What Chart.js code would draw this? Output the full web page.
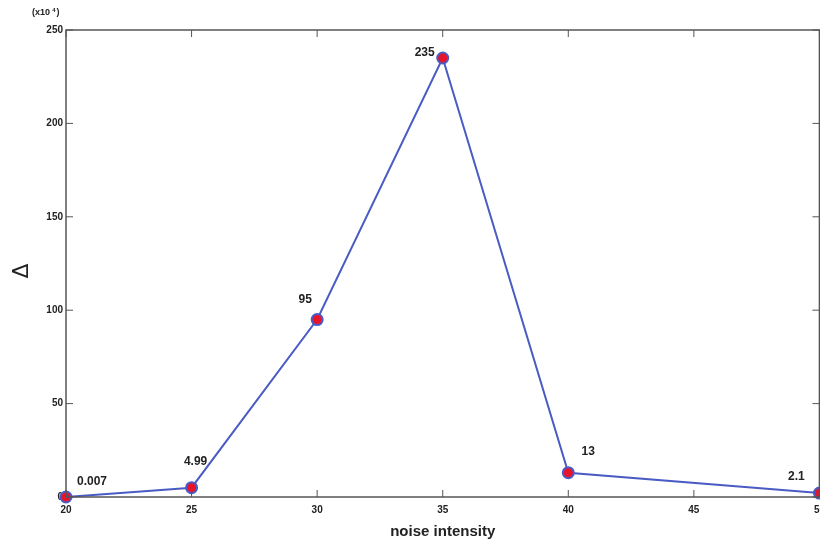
<!DOCTYPE html>
<html>
<head>
<meta charset="utf-8">
<script src="https://cdn.jsdelivr.net/npm/chart.js@4.4.1/dist/chart.umd.min.js"></script>
<style>
  html, body { margin: 0; padding: 0; background: #fff; overflow: hidden; }
  #wrap { position: relative; width: 832px; height: 541px; }
</style>
</head>
<body>
<div id="wrap"><canvas id="grafico"></canvas></div>
<script>
// datos
const intensidad = [20, 25, 30, 35, 40, 50];
const delta = [0.007, 4.99, 95, 235, 13, 2.1];
const etiquetas = ["0.007", "4.99", "95", "235", "13", "2.1"];
const ticksX = [20, 25, 30, 35, 40, 45, 50];
const ticksY = [0, 50, 100, 150, 200, 250];

const fuente = "Liberation Sans, Arial, sans-serif";
const colorLinea = "#4a5cc4";

// donde va cada etiqueta respecto a su punto
const posEtiqueta = [
  { dx: 26, dy: -15, align: "center" },
  { dx: 4, dy: -26, align: "center" },
  { dx: -12, dy: -20, align: "center" },
  { dx: -8, dy: -5, align: "right" },
  { dx: 20, dy: -21, align: "center" },
  { dx: -23, dy: -16, align: "center" },
];

// marco y marcas hacia adentro
const marcoPlugin = {
  id: "marco",
  afterDraw(chart) {
    const { ctx, chartArea: a, scales } = chart;
    ctx.save();
    ctx.strokeStyle = "#555";
    ctx.lineWidth = 1.5;
    ctx.strokeRect(a.left, a.top, a.right - a.left, a.bottom - a.top);
    ctx.lineWidth = 1;
    ticksX.forEach((v) => {
      const x = scales.x.getPixelForValue(v);
      ctx.beginPath();
      ctx.moveTo(x, a.bottom); ctx.lineTo(x, a.bottom - 7);
      ctx.moveTo(x, a.top); ctx.lineTo(x, a.top + 7);
      ctx.stroke();
    });
    ticksY.forEach((v) => {
      const y = scales.y.getPixelForValue(v);
      ctx.beginPath();
      ctx.moveTo(a.left, y); ctx.lineTo(a.left + 7, y);
      ctx.moveTo(a.right, y); ctx.lineTo(a.right - 7, y);
      ctx.stroke();
    });
    // (x10^4)
    ctx.fillStyle = "#222";
    ctx.font = "bold 9px " + fuente;
    ctx.textAlign = "center";
    ctx.textBaseline = "middle";
    ctx.fillText("(x10", a.left - 25, 13);
    ctx.font = "bold 6px " + fuente;
    ctx.fillText("4", a.left - 12, 10);
    ctx.font = "bold 9px " + fuente;
    ctx.fillText(")", a.left - 8, 13);
    // titulo del eje y
    ctx.font = "22px DejaVu Sans, sans-serif";
    ctx.translate(22, 271);
    ctx.rotate(-Math.PI / 2);
    ctx.fillText("Δ", 0, 0);
    ctx.restore();
  },
};

// valores junto a cada punto
const etiquetasPlugin = {
  id: "etiquetas",
  afterDatasetsDraw(chart) {
    const { ctx } = chart;
    const meta = chart.getDatasetMeta(0);
    ctx.save();
    ctx.fillStyle = "#222";
    ctx.font = "bold 12px " + fuente;
    ctx.textBaseline = "middle";
    meta.data.forEach((p, i) => {
      const pos = posEtiqueta[i];
      ctx.textAlign = pos.align;
      ctx.fillText(etiquetas[i], p.x + pos.dx, p.y + pos.dy);
    });
    ctx.restore();
  },
};

const ctx = document.getElementById("grafico").getContext("2d");
const chart = new Chart(ctx, {
  type: "line",
  data: {
    datasets: [
      {
        data: intensidad.map((x, i) => ({ x: x, y: delta[i] })),
        borderColor: colorLinea,
        borderWidth: 2,
        pointBackgroundColor: "#e8142c",
        pointBorderColor: colorLinea,
        pointBorderWidth: 2,
        pointRadius: 5.5,
        tension: 0,
        fill: false,
        clip: false,
      },
    ],
  },
  options: {
    responsive: true,
    maintainAspectRatio: false,
    animation: false,
    layout: { padding: { top: 30, right: 11, left: 0, bottom: 0 } },
    plugins: { legend: { display: false }, tooltip: { enabled: false } },
    scales: {
      x: {
        type: "linear",
        min: 20,
        max: 50,
        afterBuildTicks: (s) => { s.ticks = ticksX.map((v) => ({ value: v })); },
        grid: { display: false, drawTicks: false },
        border: { display: false },
        ticks: { color: "#222", font: { family: fuente, size: 10, weight: "bold" }, padding: 7, maxRotation: 0 },
        title: { display: true, text: "noise intensity", color: "#222", font: { family: fuente, size: 15, weight: "bold" }, padding: { top: 6, bottom: 0 } },
        afterFit: (s) => { s.height = 44; },
      },
      y: {
        min: 0,
        max: 250,
        afterBuildTicks: (s) => { s.ticks = ticksY.map((v) => ({ value: v })); },
        grid: { display: false, drawTicks: false },
        border: { display: false },
        ticks: { color: "#222", font: { family: fuente, size: 10, weight: "bold" }, padding: 3 },
        title: { display: false },
        afterFit: (s) => { s.width = 66; },
      },
    },
  },
  plugins: [marcoPlugin, etiquetasPlugin],
});
</script>
</body>
</html>
